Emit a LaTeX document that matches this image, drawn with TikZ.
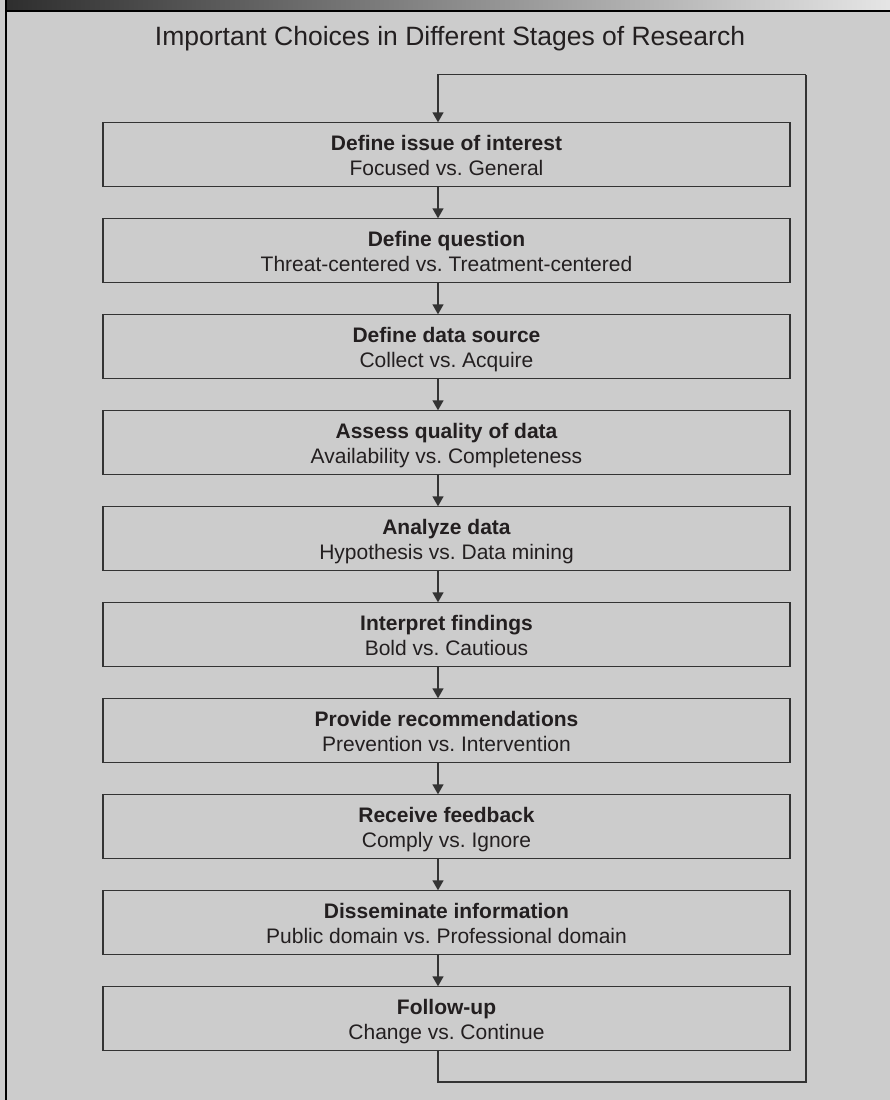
\documentclass[tikz,border=0pt]{standalone}
\usepackage{fontspec}
\setmainfont{Liberation Sans}
\usetikzlibrary{arrows.meta,calc}
\definecolor{panel}{HTML}{CCCCCC}
\definecolor{ink}{HTML}{231F20}
\definecolor{rule}{HTML}{333333}
\frenchspacing
\begin{document}
\begin{tikzpicture}[x=1pt,y=-1pt,
  stepbox/.style={draw=rule,line width=1.4pt,minimum width=687pt,minimum height=64pt,
    inner sep=0pt,outer sep=0pt,rectangle},
  headline/.style={anchor=base,inner sep=0pt,text=ink,font=\fontsize{21}{25}\selectfont\bfseries},
  subline/.style={anchor=base,inner sep=0pt,text=ink,font=\fontsize{21}{25}\selectfont},
  flow/.style={draw=rule,line width=1.4pt,-{Triangle[length=10pt,width=11pt]}},
  loopline/.style={draw=rule,line width=1.4pt}]
% page and panel
\fill[panel] (0,0) rectangle (890,1100);
\useasboundingbox (0,0) rectangle (890,1100);
\shade[left color=black!82,right color=black!10] (5,0) rectangle (890,10);
\fill[black] (5,10) rectangle (890,12);
\fill[black] (5,0) rectangle (7,1100);
% title
\node[anchor=base,inner sep=0pt,text=ink,font=\fontsize{26.5}{30}\selectfont] (title) at (450,45)
  {Important Choices in Different Stages of Research};
% column of the flow arrows
\coordinate (ax) at (438,0);
% stage boxes
\foreach \i/\h/\s in {
  1/Define issue of interest/Focused vs. General,
  2/Define question/Threat-centered vs. Treatment-centered,
  3/Define data source/Collect vs. Acquire,
  4/Assess quality of data/Availability vs. Completeness,
  5/Analyze data/Hypothesis vs. Data mining,
  6/Interpret findings/Bold vs. Cautious,
  7/Provide recommendations/Prevention vs. Intervention,
  8/Receive feedback/Comply vs. Ignore,
  9/Disseminate information/Public domain vs. Professional domain,
  10/Follow-up/Change vs. Continue}{
  \pgfmathsetmacro{\cy}{154.3+96*(\i-1)}
  \node[stepbox] (b\i) at (446.5,\cy) {};
  \node[headline] (b\i h) at ($(b\i.center)+(0,-4.3)$) {\h};
  \node[subline] (b\i s) at ($(b\i.center)+(0,20.7)$) {\s};
}
% arrows between stages
\foreach \i [evaluate=\i as \j using int(\i+1)] in {1,...,9}{
  \draw[flow] (b\i.south -| ax) -- (b\j.north -| ax);
}
% loop back from the last stage to the first
\coordinate (rb) at (806,1082);
\coordinate (rt) at (806,74.7);
\draw[loopline] (b10.south -| ax) |- (rb) -- (rt);
\draw[flow] (rt) -| (b1.north -| ax);
\end{tikzpicture}
\end{document}
